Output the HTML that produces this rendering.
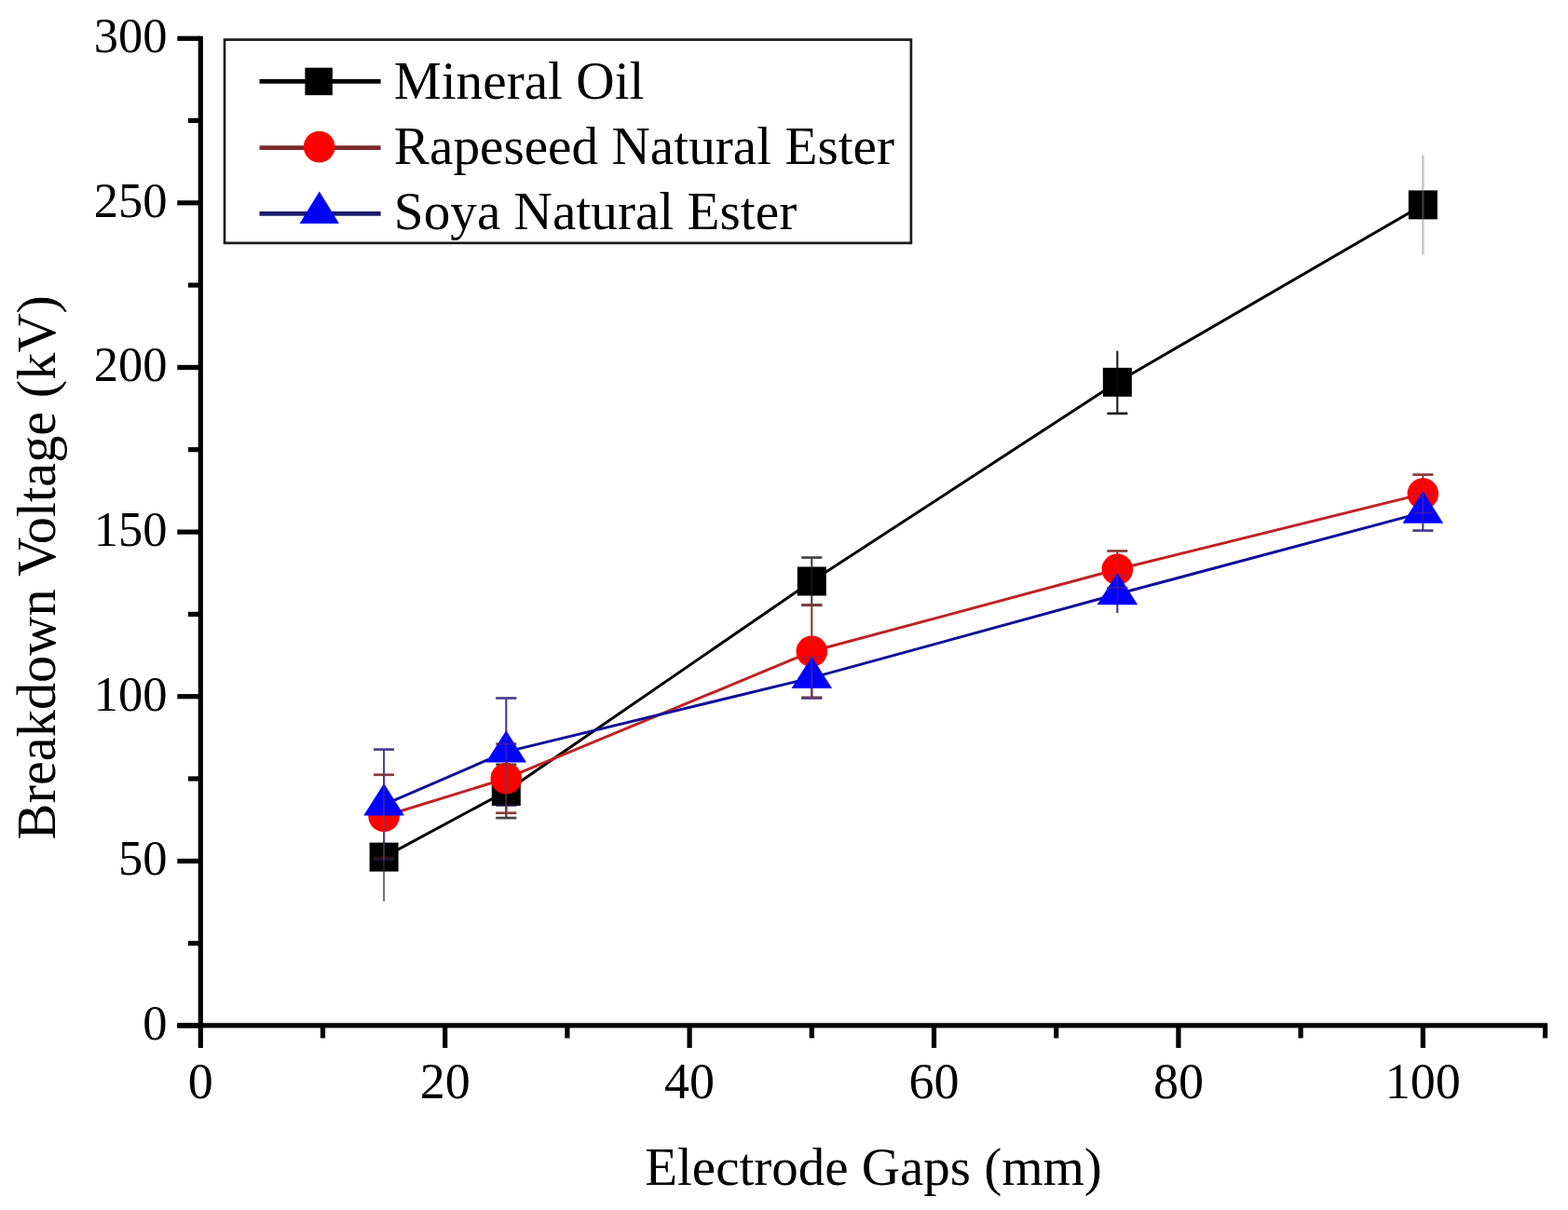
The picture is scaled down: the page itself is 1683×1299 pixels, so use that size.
<!DOCTYPE html>
<html><head><meta charset="utf-8"><title>Breakdown Voltage vs Electrode Gaps</title>
<style>html,body{margin:0;padding:0;background:#fff;}svg{display:block;}</style>
</head><body>
<svg width="1683" height="1299" viewBox="0 0 1683 1299">
<rect width="1683" height="1299" fill="#fff"/>
<line x1="412.1" y1="872.8" x2="412.1" y2="967.5" stroke="#707070" stroke-width="2.0"/>
<line x1="543.3" y1="820.8" x2="543.3" y2="878.1" stroke="#444" stroke-width="2.0"/>
<line x1="532.3" y1="820.8" x2="554.3" y2="820.8" stroke="#444" stroke-width="2.6"/>
<line x1="532.3" y1="878.1" x2="554.3" y2="878.1" stroke="#444" stroke-width="2.6"/>
<line x1="871.3" y1="598.6" x2="871.3" y2="649.5" stroke="#444" stroke-width="2.0"/>
<line x1="860.3" y1="598.6" x2="882.3" y2="598.6" stroke="#444" stroke-width="2.6"/>
<line x1="860.3" y1="649.5" x2="882.3" y2="649.5" stroke="#444" stroke-width="2.6"/>
<line x1="1199.3" y1="376.7" x2="1199.3" y2="443.9" stroke="#222" stroke-width="2.0"/>
<line x1="1188.3" y1="443.9" x2="1210.3" y2="443.9" stroke="#222" stroke-width="2.6"/>
<line x1="1527.3" y1="166.5" x2="1527.3" y2="273.2" stroke="#c8c8c8" stroke-width="2.4"/>
<line x1="412.1" y1="831.8" x2="412.1" y2="920.8" stroke="#8a3a3a" stroke-width="2.0"/>
<line x1="401.1" y1="831.8" x2="423.1" y2="831.8" stroke="#8a3a3a" stroke-width="2.6"/>
<line x1="401.1" y1="920.8" x2="423.1" y2="920.8" stroke="#8a3a3a" stroke-width="2.6"/>
<line x1="543.3" y1="798.6" x2="543.3" y2="872.8" stroke="#8a3a3a" stroke-width="2.0"/>
<line x1="532.3" y1="798.6" x2="554.3" y2="798.6" stroke="#8a3a3a" stroke-width="2.6"/>
<line x1="532.3" y1="872.8" x2="554.3" y2="872.8" stroke="#8a3a3a" stroke-width="2.6"/>
<line x1="871.3" y1="649.8" x2="871.3" y2="748.8" stroke="#8a3a3a" stroke-width="2.0"/>
<line x1="860.3" y1="649.8" x2="882.3" y2="649.8" stroke="#8a3a3a" stroke-width="2.6"/>
<line x1="860.3" y1="748.8" x2="882.3" y2="748.8" stroke="#8a3a3a" stroke-width="2.6"/>
<line x1="1199.3" y1="591.5" x2="1199.3" y2="631.1" stroke="#8a3a3a" stroke-width="2.0"/>
<line x1="1188.3" y1="591.5" x2="1210.3" y2="591.5" stroke="#8a3a3a" stroke-width="2.6"/>
<line x1="1188.3" y1="631.1" x2="1210.3" y2="631.1" stroke="#8a3a3a" stroke-width="2.6"/>
<line x1="1527.3" y1="509.6" x2="1527.3" y2="550.6" stroke="#8a3a3a" stroke-width="2.0"/>
<line x1="1516.3" y1="509.6" x2="1538.3" y2="509.6" stroke="#8a3a3a" stroke-width="2.6"/>
<line x1="1516.3" y1="550.6" x2="1538.3" y2="550.6" stroke="#8a3a3a" stroke-width="2.6"/>
<line x1="412.1" y1="804.6" x2="412.1" y2="923.3" stroke="#4a3f8a" stroke-width="2.0"/>
<line x1="401.1" y1="804.6" x2="423.1" y2="804.6" stroke="#4a3f8a" stroke-width="2.6"/>
<line x1="401.1" y1="923.3" x2="423.1" y2="923.3" stroke="#4a3f8a" stroke-width="2.6"/>
<line x1="543.3" y1="749.5" x2="543.3" y2="864.6" stroke="#4a3f8a" stroke-width="2.0"/>
<line x1="532.3" y1="749.5" x2="554.3" y2="749.5" stroke="#4a3f8a" stroke-width="2.6"/>
<line x1="532.3" y1="864.6" x2="554.3" y2="864.6" stroke="#4a3f8a" stroke-width="2.6"/>
<line x1="871.3" y1="705.7" x2="871.3" y2="749.5" stroke="#4a3f8a" stroke-width="2.0"/>
<line x1="860.3" y1="705.7" x2="882.3" y2="705.7" stroke="#4a3f8a" stroke-width="2.6"/>
<line x1="860.3" y1="749.5" x2="882.3" y2="749.5" stroke="#4a3f8a" stroke-width="2.6"/>
<line x1="1199.3" y1="617.7" x2="1199.3" y2="658.0" stroke="#4a3f8a" stroke-width="2.0"/>
<line x1="1188.3" y1="617.7" x2="1210.3" y2="617.7" stroke="#4a3f8a" stroke-width="2.6"/>
<line x1="1527.3" y1="530.8" x2="1527.3" y2="569.6" stroke="#4a3f8a" stroke-width="2.0"/>
<line x1="1516.3" y1="530.8" x2="1538.3" y2="530.8" stroke="#4a3f8a" stroke-width="2.6"/>
<line x1="1516.3" y1="569.6" x2="1538.3" y2="569.6" stroke="#4a3f8a" stroke-width="2.6"/>
<polyline points="412.1,920.1 543.3,849.5 871.3,624.0 1199.3,410.3 1527.3,219.9" fill="none" stroke="#000" stroke-width="3.0" stroke-linejoin="round"/>
<rect x="396.6" y="904.6" width="31" height="31" fill="#000"/>
<rect x="527.8" y="834.0" width="31" height="31" fill="#000"/>
<rect x="855.8" y="608.5" width="31" height="31" fill="#000"/>
<rect x="1183.8" y="394.8" width="31" height="31" fill="#000"/>
<rect x="1511.8" y="204.4" width="31" height="31" fill="#000"/>
<polyline points="412.1,876.3 543.3,835.7 871.3,699.3 1199.3,611.3 1527.3,530.1" fill="none" stroke="#c02222" stroke-width="3.0" stroke-linejoin="round"/>
<circle cx="412.1" cy="876.3" r="16.8" fill="#f00"/>
<circle cx="543.3" cy="835.7" r="16.8" fill="#f00"/>
<circle cx="871.3" cy="699.3" r="16.8" fill="#f00"/>
<circle cx="1199.3" cy="611.3" r="16.8" fill="#f00"/>
<circle cx="1527.3" cy="530.1" r="16.8" fill="#f00"/>
<polyline points="412.1,863.9 543.3,807.1 871.3,727.6 1199.3,637.8 1527.3,550.2" fill="none" stroke="#10109a" stroke-width="3.0" stroke-linejoin="round"/>
<polygon points="412.1,841.0 433.9,875.4 390.3,875.4" fill="#00f"/>
<polygon points="543.3,784.2 565.1,818.6 521.5,818.6" fill="#00f"/>
<polygon points="871.3,704.7 893.1,739.1 849.5,739.1" fill="#00f"/>
<polygon points="1199.3,614.9 1221.1,649.3 1177.5,649.3" fill="#00f"/>
<polygon points="1527.3,527.3 1549.1,561.7 1505.5,561.7" fill="#00f"/>
<line x1="412.1" y1="872.8" x2="412.1" y2="967.5" stroke="#707070" stroke-width="2.0" stroke-opacity="0.3"/>
<line x1="543.3" y1="820.8" x2="543.3" y2="878.1" stroke="#444" stroke-width="2.0" stroke-opacity="0.3"/>
<line x1="532.3" y1="820.8" x2="554.3" y2="820.8" stroke="#444" stroke-width="2.6" stroke-opacity="0.3"/>
<line x1="532.3" y1="878.1" x2="554.3" y2="878.1" stroke="#444" stroke-width="2.6" stroke-opacity="0.3"/>
<line x1="871.3" y1="598.6" x2="871.3" y2="649.5" stroke="#444" stroke-width="2.0" stroke-opacity="0.3"/>
<line x1="860.3" y1="598.6" x2="882.3" y2="598.6" stroke="#444" stroke-width="2.6" stroke-opacity="0.3"/>
<line x1="860.3" y1="649.5" x2="882.3" y2="649.5" stroke="#444" stroke-width="2.6" stroke-opacity="0.3"/>
<line x1="1199.3" y1="376.7" x2="1199.3" y2="443.9" stroke="#222" stroke-width="2.0" stroke-opacity="0.3"/>
<line x1="1188.3" y1="443.9" x2="1210.3" y2="443.9" stroke="#222" stroke-width="2.6" stroke-opacity="0.3"/>
<line x1="1527.3" y1="166.5" x2="1527.3" y2="273.2" stroke="#c8c8c8" stroke-width="2.4" stroke-opacity="0.3"/>
<line x1="412.1" y1="831.8" x2="412.1" y2="920.8" stroke="#8a3a3a" stroke-width="2.0" stroke-opacity="0.3"/>
<line x1="401.1" y1="831.8" x2="423.1" y2="831.8" stroke="#8a3a3a" stroke-width="2.6" stroke-opacity="0.3"/>
<line x1="401.1" y1="920.8" x2="423.1" y2="920.8" stroke="#8a3a3a" stroke-width="2.6" stroke-opacity="0.3"/>
<line x1="543.3" y1="798.6" x2="543.3" y2="872.8" stroke="#8a3a3a" stroke-width="2.0" stroke-opacity="0.3"/>
<line x1="532.3" y1="798.6" x2="554.3" y2="798.6" stroke="#8a3a3a" stroke-width="2.6" stroke-opacity="0.3"/>
<line x1="532.3" y1="872.8" x2="554.3" y2="872.8" stroke="#8a3a3a" stroke-width="2.6" stroke-opacity="0.3"/>
<line x1="871.3" y1="649.8" x2="871.3" y2="748.8" stroke="#8a3a3a" stroke-width="2.0" stroke-opacity="0.3"/>
<line x1="860.3" y1="649.8" x2="882.3" y2="649.8" stroke="#8a3a3a" stroke-width="2.6" stroke-opacity="0.3"/>
<line x1="860.3" y1="748.8" x2="882.3" y2="748.8" stroke="#8a3a3a" stroke-width="2.6" stroke-opacity="0.3"/>
<line x1="1199.3" y1="591.5" x2="1199.3" y2="631.1" stroke="#8a3a3a" stroke-width="2.0" stroke-opacity="0.3"/>
<line x1="1188.3" y1="591.5" x2="1210.3" y2="591.5" stroke="#8a3a3a" stroke-width="2.6" stroke-opacity="0.3"/>
<line x1="1188.3" y1="631.1" x2="1210.3" y2="631.1" stroke="#8a3a3a" stroke-width="2.6" stroke-opacity="0.3"/>
<line x1="1527.3" y1="509.6" x2="1527.3" y2="550.6" stroke="#8a3a3a" stroke-width="2.0" stroke-opacity="0.3"/>
<line x1="1516.3" y1="509.6" x2="1538.3" y2="509.6" stroke="#8a3a3a" stroke-width="2.6" stroke-opacity="0.3"/>
<line x1="1516.3" y1="550.6" x2="1538.3" y2="550.6" stroke="#8a3a3a" stroke-width="2.6" stroke-opacity="0.3"/>
<line x1="412.1" y1="804.6" x2="412.1" y2="923.3" stroke="#4a3f8a" stroke-width="2.0" stroke-opacity="0.3"/>
<line x1="401.1" y1="804.6" x2="423.1" y2="804.6" stroke="#4a3f8a" stroke-width="2.6" stroke-opacity="0.3"/>
<line x1="401.1" y1="923.3" x2="423.1" y2="923.3" stroke="#4a3f8a" stroke-width="2.6" stroke-opacity="0.3"/>
<line x1="543.3" y1="749.5" x2="543.3" y2="864.6" stroke="#4a3f8a" stroke-width="2.0" stroke-opacity="0.3"/>
<line x1="532.3" y1="749.5" x2="554.3" y2="749.5" stroke="#4a3f8a" stroke-width="2.6" stroke-opacity="0.3"/>
<line x1="532.3" y1="864.6" x2="554.3" y2="864.6" stroke="#4a3f8a" stroke-width="2.6" stroke-opacity="0.3"/>
<line x1="871.3" y1="705.7" x2="871.3" y2="749.5" stroke="#4a3f8a" stroke-width="2.0" stroke-opacity="0.3"/>
<line x1="860.3" y1="705.7" x2="882.3" y2="705.7" stroke="#4a3f8a" stroke-width="2.6" stroke-opacity="0.3"/>
<line x1="860.3" y1="749.5" x2="882.3" y2="749.5" stroke="#4a3f8a" stroke-width="2.6" stroke-opacity="0.3"/>
<line x1="1199.3" y1="617.7" x2="1199.3" y2="658.0" stroke="#4a3f8a" stroke-width="2.0" stroke-opacity="0.3"/>
<line x1="1188.3" y1="617.7" x2="1210.3" y2="617.7" stroke="#4a3f8a" stroke-width="2.6" stroke-opacity="0.3"/>
<line x1="1527.3" y1="530.8" x2="1527.3" y2="569.6" stroke="#4a3f8a" stroke-width="2.0" stroke-opacity="0.3"/>
<line x1="1516.3" y1="530.8" x2="1538.3" y2="530.8" stroke="#4a3f8a" stroke-width="2.6" stroke-opacity="0.3"/>
<line x1="1516.3" y1="569.6" x2="1538.3" y2="569.6" stroke="#4a3f8a" stroke-width="2.6" stroke-opacity="0.3"/>
<line x1="215.3" y1="38.8" x2="215.3" y2="1125" stroke="#000" stroke-width="5.2"/>
<line x1="190.3" y1="1100.8" x2="1661" y2="1100.8" stroke="#000" stroke-width="5.2"/>
<line x1="190.3" y1="1101.0" x2="215" y2="1101.0" stroke="#000" stroke-width="5.2"/>
<line x1="190.3" y1="924.4" x2="215" y2="924.4" stroke="#000" stroke-width="5.2"/>
<line x1="190.3" y1="747.7" x2="215" y2="747.7" stroke="#000" stroke-width="5.2"/>
<line x1="190.3" y1="571.1" x2="215" y2="571.1" stroke="#000" stroke-width="5.2"/>
<line x1="190.3" y1="394.4" x2="215" y2="394.4" stroke="#000" stroke-width="5.2"/>
<line x1="190.3" y1="217.8" x2="215" y2="217.8" stroke="#000" stroke-width="5.2"/>
<line x1="190.3" y1="41.3" x2="215" y2="41.3" stroke="#000" stroke-width="5.2"/>
<line x1="202" y1="1012.7" x2="215" y2="1012.7" stroke="#000" stroke-width="5.2"/>
<line x1="202" y1="836.0" x2="215" y2="836.0" stroke="#000" stroke-width="5.2"/>
<line x1="202" y1="659.4" x2="215" y2="659.4" stroke="#000" stroke-width="5.2"/>
<line x1="202" y1="482.7" x2="215" y2="482.7" stroke="#000" stroke-width="5.2"/>
<line x1="202" y1="306.1" x2="215" y2="306.1" stroke="#000" stroke-width="5.2"/>
<line x1="202" y1="129.4" x2="215" y2="129.4" stroke="#000" stroke-width="5.2"/>
<line x1="477.7" y1="1100" x2="477.7" y2="1125" stroke="#000" stroke-width="5.2"/>
<line x1="740.1" y1="1100" x2="740.1" y2="1125" stroke="#000" stroke-width="5.2"/>
<line x1="1002.5" y1="1100" x2="1002.5" y2="1125" stroke="#000" stroke-width="5.2"/>
<line x1="1264.9" y1="1100" x2="1264.9" y2="1125" stroke="#000" stroke-width="5.2"/>
<line x1="1527.3" y1="1100" x2="1527.3" y2="1125" stroke="#000" stroke-width="5.2"/>
<line x1="346.5" y1="1100" x2="346.5" y2="1114.5" stroke="#000" stroke-width="5.2"/>
<line x1="608.9" y1="1100" x2="608.9" y2="1114.5" stroke="#000" stroke-width="5.2"/>
<line x1="871.3" y1="1100" x2="871.3" y2="1114.5" stroke="#000" stroke-width="5.2"/>
<line x1="1133.7" y1="1100" x2="1133.7" y2="1114.5" stroke="#000" stroke-width="5.2"/>
<line x1="1396.1" y1="1100" x2="1396.1" y2="1114.5" stroke="#000" stroke-width="5.2"/>
<line x1="1658.5" y1="1100" x2="1658.5" y2="1114.5" stroke="#000" stroke-width="5.2"/>
<text x="179.5" y="1116.0" font-family="Liberation Serif, Times New Roman, serif" font-size="52.5" text-anchor="end" fill="#000">0</text>
<text x="179.5" y="939.4" font-family="Liberation Serif, Times New Roman, serif" font-size="52.5" text-anchor="end" fill="#000">50</text>
<text x="179.5" y="762.7" font-family="Liberation Serif, Times New Roman, serif" font-size="52.5" text-anchor="end" fill="#000">100</text>
<text x="179.5" y="586.1" font-family="Liberation Serif, Times New Roman, serif" font-size="52.5" text-anchor="end" fill="#000">150</text>
<text x="179.5" y="409.4" font-family="Liberation Serif, Times New Roman, serif" font-size="52.5" text-anchor="end" fill="#000">200</text>
<text x="179.5" y="232.8" font-family="Liberation Serif, Times New Roman, serif" font-size="52.5" text-anchor="end" fill="#000">250</text>
<text x="179.5" y="56.3" font-family="Liberation Serif, Times New Roman, serif" font-size="52.5" text-anchor="end" fill="#000">300</text>
<text x="215.3" y="1178.5" font-family="Liberation Serif, Times New Roman, serif" font-size="54" text-anchor="middle" fill="#000">0</text>
<text x="477.7" y="1178.5" font-family="Liberation Serif, Times New Roman, serif" font-size="54" text-anchor="middle" fill="#000">20</text>
<text x="740.1" y="1178.5" font-family="Liberation Serif, Times New Roman, serif" font-size="54" text-anchor="middle" fill="#000">40</text>
<text x="1002.5" y="1178.5" font-family="Liberation Serif, Times New Roman, serif" font-size="54" text-anchor="middle" fill="#000">60</text>
<text x="1264.9" y="1178.5" font-family="Liberation Serif, Times New Roman, serif" font-size="54" text-anchor="middle" fill="#000">80</text>
<text x="1527.3" y="1178.5" font-family="Liberation Serif, Times New Roman, serif" font-size="54" text-anchor="middle" fill="#000">100</text>
<text x="692.2" y="1271.8" font-family="Liberation Serif, Times New Roman, serif" font-size="57" fill="#000">Electrode Gaps (mm)</text>
<text transform="translate(58.8,901.4) rotate(-90)" font-family="Liberation Serif, Times New Roman, serif" font-size="58.35" fill="#000">Breakdown Voltage (kV)</text>
<rect x="241" y="42.6" width="736.9" height="218.3" fill="#fff" stroke="#1a1a1a" stroke-width="2.7"/>
<line x1="278.5" y1="87.4" x2="408.6" y2="87.4" stroke="#000" stroke-width="4.8"/>
<rect x="327.4" y="72.7" width="29.5" height="29.5" fill="#000"/>
<line x1="278.5" y1="158.6" x2="408.6" y2="158.6" stroke="#7a2a2a" stroke-width="4.8"/>
<circle cx="342.7" cy="157.6" r="16.9" fill="#f00"/>
<line x1="278.5" y1="229.4" x2="408.6" y2="229.4" stroke="#1c1a6c" stroke-width="4.8"/>
<polygon points="342.8,205.5 364.0,239.9 321.6,239.9" fill="#00f"/>
<text x="422.8" y="106.1" font-family="Liberation Serif, Times New Roman, serif" font-size="57.25" fill="#000">Mineral Oil</text>
<text x="422.8" y="176.2" font-family="Liberation Serif, Times New Roman, serif" font-size="57.25" fill="#000">Rapeseed Natural Ester</text>
<text x="422.8" y="246.3" font-family="Liberation Serif, Times New Roman, serif" font-size="57.25" fill="#000">Soya Natural Ester</text>
</svg>
</body></html>
